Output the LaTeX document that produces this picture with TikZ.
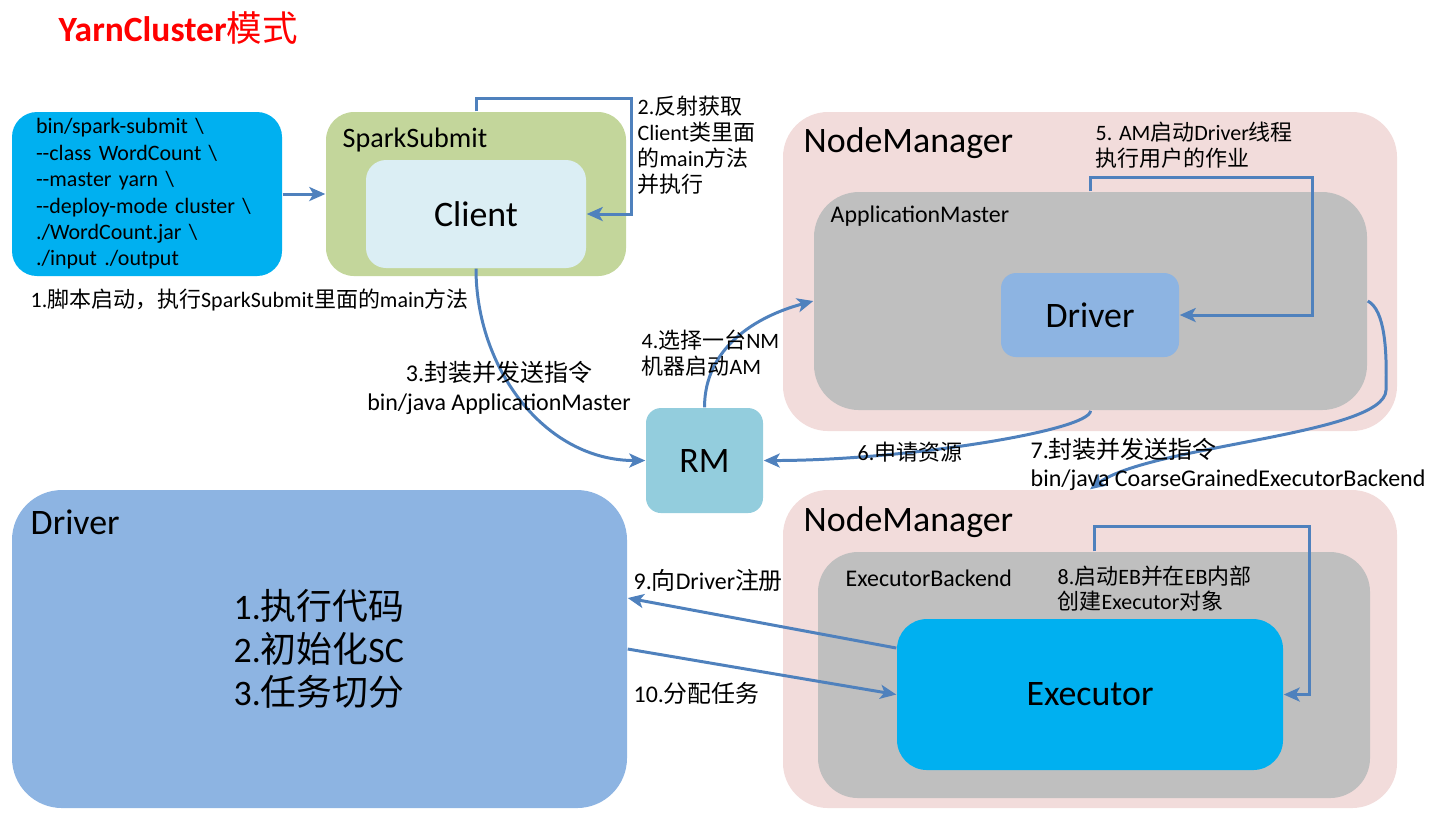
\documentclass[tikz,border=0pt]{standalone}
\usepackage{fontspec}
\setmainfont{Carlito}
\newfontfamily\zhfont{Noto Sans CJK SC}
\newcommand{\zh}[1]{{\zhfont #1}}
\newcommand{\dashdash}{-\kern0pt-}
\usepackage{xcolor}
\definecolor{yarnred}{RGB}{255,0,0}
\definecolor{yarncyan}{RGB}{0,176,240}
\definecolor{yarngreen}{RGB}{195,214,155}
\definecolor{yarnpale}{RGB}{219,238,244}
\definecolor{yarnpink}{RGB}{242,220,219}
\definecolor{yarngray}{RGB}{191,191,191}
\definecolor{yarnblue}{RGB}{141,180,226}
\definecolor{yarnrm}{RGB}{147,205,221}
\definecolor{yarnline}{RGB}{79,129,189}
\usetikzlibrary{arrows.meta, positioning}

\begin{document}
\begin{tikzpicture}[
  box/.style={rectangle, draw=none, inner sep=0pt},
  flow/.style={draw=yarnline, line width=0.85pt, -{Stealth[length=1.6mm, width=1.4mm, inset=0.4mm]}},
  tag/.style={inner sep=0pt, anchor=west, align=left},
  fbig/.style={font=\fontsize{10.2}{12.2}\selectfont},
  fmid/.style={font=\fontsize{6.8}{8.2}\selectfont},
  fsmall/.style={font=\fontsize{6.25}{7.4}\selectfont},
]
\useasboundingbox (0,0) rectangle (14.36,-8.27);

% Title
\node[tag, font=\fontsize{10.1}{12}\selectfont\bfseries, text=yarnred] (title) at (0.58,-0.28) {YarnCluster\zh{\mdseries 模式}};

% Submit command and SparkSubmit
\node[box, fill=yarncyan, rounded corners=0.25cm, minimum width=2.70cm, minimum height=1.64cm, text width=2.22cm, align=left, font=\fontsize{6.25}{7.5}\selectfont] (cmd) at (1.47,-1.94) {bin/spark-submit \textbackslash\\ \dashdash class WordCount \textbackslash\\ \dashdash master yarn \textbackslash\\ \dashdash deploy-mode cluster \textbackslash\\ ./WordCount.jar \textbackslash\\ ./input ./output};
\node[box, fill=yarngreen, rounded corners=0.28cm, minimum width=3.00cm, minimum height=1.64cm] (ss) at (4.76,-1.94) {};
\node[tag, font=\fontsize{8}{9.6}\selectfont] (sslabel) at (3.42,-1.40) {SparkSubmit};
\node[box, fill=yarnpale, rounded corners=0.2cm, minimum width=2.20cm, minimum height=1.08cm, fbig] (client) at (4.76,-2.14) {Client};

% NodeManager with ApplicationMaster
\node[box, fill=yarnpink, rounded corners=0.45cm, minimum width=6.14cm, minimum height=3.19cm] (nm1) at (10.90,-2.715) {};
\node[tag, fbig] (nm1label) at (8.03,-1.43) {NodeManager};
\node[box, fill=yarngray, rounded corners=0.45cm, minimum width=5.53cm, minimum height=2.18cm] (am) at (10.905,-3.01) {};
\node[tag, fmid] (amlabel) at (8.30,-2.16) {ApplicationMaster};
\node[box, fill=yarnblue, rounded corners=0.15cm, minimum width=1.78cm, minimum height=0.84cm, fbig] (drv) at (10.90,-3.15) {Driver};

% RM
\node[box, fill=yarnrm, rounded corners=0.15cm, minimum width=1.17cm, minimum height=1.05cm, fbig] (rm) at (7.045,-4.605) {RM};

% NodeManager with ExecutorBackend
\node[box, fill=yarnpink, rounded corners=0.45cm, minimum width=6.14cm, minimum height=3.18cm] (nm2) at (10.90,-6.49) {};
\node[tag, fbig] (nm2label) at (8.03,-5.22) {NodeManager};
\node[box, fill=yarngray, rounded corners=0.4cm, minimum width=5.52cm, minimum height=2.46cm] (eb) at (10.94,-6.75) {};
\node[tag, fmid] (eblabel) at (8.45,-5.78) {ExecutorBackend};
\node[box, fill=yarncyan, rounded corners=0.3cm, minimum width=3.86cm, minimum height=1.51cm, fbig] (exe) at (10.90,-6.945) {Executor};

% Driver
\node[box, fill=yarnblue, rounded corners=0.5cm, minimum width=6.15cm, minimum height=3.18cm] (drv2) at (3.195,-6.49) {};
\node[tag, fbig] (drv2label) at (0.30,-5.22) {Driver};
\node[tag, fbig] (steps) at (2.33,-6.49) {1.\zh{执行代码}\\2.\zh{初始化}SC\\3.\zh{任务切分}};

% Connectors
\draw[flow] (cmd.east) -- (ss.west);
\draw[flow] (ss.north) -- ++(0,0.13) -| ([xshift=0.45cm]client.east) -- (client.east);
\draw[flow] (client.south) to[out=-90, in=180] (rm.west);
\draw[flow] (rm.north) to[out=90, in=195] (am.west);
\draw[flow] (am.north) -- ++(0,0.14) -| ([xshift=1.33cm]drv.east) -- (drv.east);
\draw[flow] (am.south) .. controls +(0,-0.2) and +(1.4,0) .. (rm.east);
\draw[flow] (am.east) .. controls (13.85,-3.1) and (13.87,-3.5) .. (13.86,-3.9)
  .. controls (13.85,-4.35) and (11.5,-4.45) .. (nm2.north);
\draw[flow] (eb.north) -- ++(0,0.25) -| ([xshift=0.26cm]exe.east) -- (exe.east);
\draw[flow] ([yshift=4.65mm]exe.west) -- ([yshift=5.1mm]drv2.east);
\draw[flow] (drv2.east) -- (exe.west);

% Step labels
\node[tag, fsmall] (t1) at (0.30,-3.00) {1.\zh{脚本启动，执行}SparkSubmit\zh{里面的}main\zh{方法}};
\node[tag, fsmall] (t2) at (6.37,-1.455) {2.\zh{反射获取}\\Client\zh{类里面}\\\zh{的}main\zh{方法}\\\zh{并执行}};
\node[tag, anchor=center, align=center, font=\fontsize{6.83}{8.25}\selectfont] (t3) at (4.99,-3.875) {3.\zh{封装并发送指令}\\bin/java ApplicationMaster};
\node[tag, fsmall] (t4) at (6.41,-3.53) {4.\zh{选择一台}NM\\\zh{机器启动}AM};
\node[tag, fsmall] (t5) at (10.95,-1.45) {5. AM\zh{启动}Driver\zh{线程}\\\zh{执行用户的作业}};
\node[tag, fsmall] (t6) at (8.57,-4.52) {6.\zh{申请资源}};
\node[tag, font=\fontsize{6.83}{7.97}\selectfont] (t7) at (10.30,-4.64) {7.\zh{封装并发送指令}\\bin/java CoarseGrainedExecutorBackend};
\node[tag, font=\fontsize{6.25}{7.1}\selectfont] (t8) at (10.57,-5.885) {8.\zh{启动}EB\zh{并在}EB\zh{内部}\\\zh{创建}Executor\zh{对象}};
\node[tag, fmid] (t9) at (6.33,-5.80) {9.\zh{向}Driver\zh{注册}};
\node[tag, fmid] (t10) at (6.33,-6.93) {10.\zh{分配任务}};
\end{tikzpicture}
\end{document}
